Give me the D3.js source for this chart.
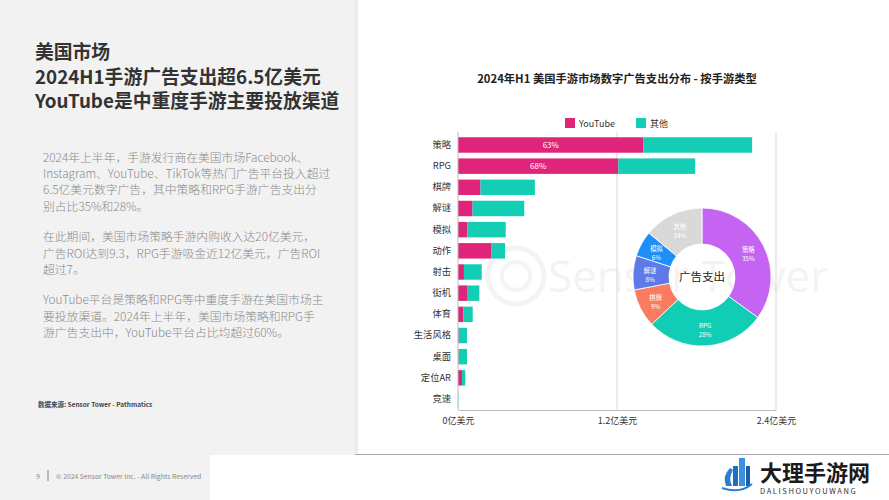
<!DOCTYPE html>
<html><head><meta charset="utf-8">
<script src="https://cdn.jsdelivr.net/npm/d3@7"></script>
<style>
html,body{margin:0;padding:0;background:#fff;}
svg{display:block;font-family:"Noto Sans CJK SC","Noto Sans",sans-serif;}
</style></head>
<body>
<svg id="c" width="889" height="500"></svg>
<script>
// ---- data ----
const categories = ["策略","RPG","棋牌","解谜","模拟","动作","射击","街机","体育","生活风格","桌面","定位AR","竞速"];
const youtubeValues = [1.40,1.21,0.17,0.11,0.07,0.25,0.045,0.068,0.04,0.005,0.004,0.03,0.0];
const otherValues   = [0.82,0.58,0.41,0.39,0.29,0.105,0.134,0.093,0.071,0.063,0.064,0.025,0.002];
const barPctLabels  = ["63%","68%","","","","","","","","","","",""];
const xTicks = [0,1.2,2.4];
const xTickLabels = ["0亿美元","1.2亿美元","2.4亿美元"];
const seriesNames = ["YouTube","其他"];
const donutNames = ["策略","RPG","棋牌","解谜","模拟","其他"];
const donutValues = [35,28,9,8,6,14];
const titleLines = ["美国市场","2024H1手游广告支出超6.5亿美元","YouTube是中重度手游主要投放渠道"];
const paragraphs = [
 ["2024年上半年，手游发行商在美国市场Facebook、","Instagram、YouTube、TikTok等热门广告平台投入超过","6.5亿美元数字广告，其中策略和RPG手游广告支出分","别占比35%和28%。"],
 ["在此期间，美国市场策略手游内购收入达20亿美元，","广告ROI达到9.3，RPG手游吸金近12亿美元，广告ROI","超过7。"],
 ["YouTube平台是策略和RPG等中重度手游在美国市场主","要投放渠道。2024年上半年，美国市场策略和RPG手","游广告支出中，YouTube平台占比均超过60%。"]
];

const svg = d3.select("#c");
// left panel
svg.append("rect").attr("x",0).attr("y",0).attr("width",354).attr("height",455).attr("fill","#f2f2f2");
svg.append("rect").attr("x",354).attr("y",0).attr("width",4).attr("height",455).attr("fill","#ececec");
svg.append("rect").attr("x",0).attr("y",455).attr("width",210).attr("height",45).attr("fill","#f2f2f2");
svg.append("line").attr("x1",355).attr("x2",889).attr("y1",454.5).attr("y2",454.5).attr("stroke","#a8a8a8").attr("stroke-width",1.2);

titleLines.forEach((t,i)=>{
  svg.append("text").attr("x",35).attr("y",59+i*24.5).attr("font-size",18.8).attr("font-weight","bold").attr("fill","#333").text(t);
});
let py = 162;
paragraphs.forEach(p=>{
  p.forEach(l=>{
    svg.append("text").attr("x",43).attr("y",py).attr("font-size",11.8).attr("font-weight",300).attr("fill","#8a8a8a").text(l);
    py += 16.2;
  });
  py += 14.5;
});
svg.append("text").attr("x",38).attr("y",407).attr("font-size",6.5).attr("font-weight","bold").attr("fill","#444").text("数据来源: Sensor Tower - Pathmatics");
svg.append("text").attr("x",36).attr("y",479).attr("font-size",7).attr("fill","#888").text("9");
svg.append("line").attr("x1",48).attr("x2",48).attr("y1",470).attr("y2",481).attr("stroke","#666").attr("stroke-width",0.8);
svg.append("text").attr("x",56).attr("y",479).attr("font-size",6.8).attr("fill","#888").text("© 2024 Sensor Tower Inc. - All Rights Reserved");

// watermark
const wm = svg.append("g").attr("opacity",0.045);
wm.append("circle").attr("cx",516).attr("cy",276).attr("r",28).attr("fill","none").attr("stroke","#000").attr("stroke-width",5);
wm.append("circle").attr("cx",516).attr("cy",276).attr("r",14).attr("fill","none").attr("stroke","#000").attr("stroke-width",4);
wm.append("text").attr("x",548).attr("y",292).attr("font-size",44).attr("font-family","Open Sans").attr("fill","#000").text("Sensor Tower");

// chart title
svg.append("text").attr("x",617).attr("y",83).attr("text-anchor","middle").attr("font-size",11.3).attr("font-weight","bold").attr("fill","#222").text("2024年H1 美国手游市场数字广告支出分布 - 按手游类型");

const colors = {yt:"#e0247a", other:"#13cdb4"};
// legend
const lg = svg.append("g");
[[565,colors.yt],[636,colors.other]].forEach((d,i)=>{
  lg.append("rect").attr("x",d[0]).attr("y",118).attr("width",10).attr("height",10).attr("fill",d[1]);
  lg.append("text").attr("x",d[0]+14).attr("y",127).attr("font-size",9).attr("fill","#333").text(seriesNames[i]);
});

const x = d3.scaleLinear().domain([0,2.4]).range([458,776]);
const y = d3.scaleBand().domain(categories).range([134.4,409.6]).paddingInner(0.27).paddingOuter(0.135);

// gridlines
svg.append("g").selectAll("line").data(xTicks.slice(1)).join("line")
  .attr("x1",d=>x(d)).attr("x2",d=>x(d)).attr("y1",132).attr("y2",410).attr("stroke","#d9d9d9").attr("stroke-width",1);

const rows = categories.map((c,i)=>({c, yt:youtubeValues[i], ot:otherValues[i], lab:barPctLabels[i]}));
svg.append("g").selectAll("rect").data(rows).join("rect")
  .attr("x",x(0)).attr("y",d=>y(d.c)).attr("height",y.bandwidth())
  .attr("width",d=>x(d.yt)-x(0)).attr("fill",colors.yt);
svg.append("g").selectAll("rect").data(rows).join("rect")
  .attr("x",d=>x(d.yt)).attr("y",d=>y(d.c)).attr("height",y.bandwidth())
  .attr("width",d=>x(d.yt+d.ot)-x(d.yt)).attr("fill",colors.other);
svg.append("g").selectAll("text").data(rows.filter(d=>d.lab)).join("text")
  .attr("x",d=>(x(0)+x(d.yt))/2).attr("y",d=>y(d.c)+y.bandwidth()/2+3)
  .attr("text-anchor","middle").attr("font-size",8).attr("fill","#fff").text(d=>d.lab);

// y axis
const ya = svg.append("g").attr("transform","translate(458,0)").call(d3.axisLeft(y).tickSize(0).tickPadding(7));
ya.select(".domain").attr("stroke","#bbb").attr("d","M0,132V410");
ya.selectAll("text").attr("font-size",9.3).attr("fill","#333").attr("font-family","Noto Sans CJK SC");
// x axis
const xa = svg.append("g").attr("transform","translate(0,410)").call(d3.axisBottom(x).tickValues(xTicks).tickSize(0).tickPadding(8).tickFormat((d,i)=>xTickLabels[i]));
xa.select(".domain").attr("stroke","#bbb").attr("stroke-width",1.2);
xa.selectAll("text").attr("font-size",9).attr("fill","#333").attr("font-family","Noto Sans CJK SC");

// donut
const donutColors = ["#c563f3","#12cdb6","#f97c62","#5e7ae8","#1e8ff6","#d9d9d9"];
const cx = 702, cy = 277;
const pie = d3.pie().sort(null).value(d=>d.v);
const arcs = pie(donutNames.map((n,i)=>({n, v:donutValues[i], c:donutColors[i]})));
const arc = d3.arc().innerRadius(33).outerRadius(69);
const lblArc = d3.arc().innerRadius(52).outerRadius(52);
const dg = svg.append("g").attr("transform",`translate(${cx},${cy})`);
dg.selectAll("path").data(arcs).join("path").attr("d",arc).attr("fill",d=>d.data.c).attr("stroke","#fff").attr("stroke-width",0.8);
const lg2 = dg.selectAll("g.l").data(arcs).join("g").attr("class","l")
  .attr("transform",d=>`translate(${lblArc.centroid(d)})`);
lg2.append("text").attr("y",-1).attr("text-anchor","middle").attr("font-size",6.3).attr("fill","#fff").text(d=>d.data.n);
lg2.append("text").attr("y",8).attr("text-anchor","middle").attr("font-size",6.3).attr("fill","#fff").text(d=>d.data.v+"%");
dg.append("text").attr("y",4).attr("text-anchor","middle").attr("font-size",11.5).attr("fill","#222").text("广告支出");

// site logo
const lo = svg.append("g");
lo.append("path").attr("d","M726,486 Q722,476 730,468 L733,470 Q728,478 732,486 Z").attr("fill","#2a7fd0");
lo.append("rect").attr("x",733).attr("y",466).attr("width",5).attr("height",20).attr("fill","#1f6fbf");
lo.append("rect").attr("x",739).attr("y",458).attr("width",6).attr("height",28).attr("fill","#3d8fe0");
lo.append("rect").attr("x",746).attr("y",466).attr("width",4).attr("height",20).attr("fill","#1a5fa8");
lo.append("path").attr("d","M722,488 Q740,494 752,484").attr("fill","none").attr("stroke","#2a7fd0").attr("stroke-width",2);
lo.append("text").attr("x",760).attr("y",481).attr("font-size",22).attr("font-weight","bold").attr("fill","#1b1b1b").text("大理手游网");
lo.append("text").attr("x",760).attr("y",494).attr("font-size",7.5).attr("letter-spacing",1.6).attr("fill","#333").text("DALISHOUYOUWANG");
</script>
</body></html>
